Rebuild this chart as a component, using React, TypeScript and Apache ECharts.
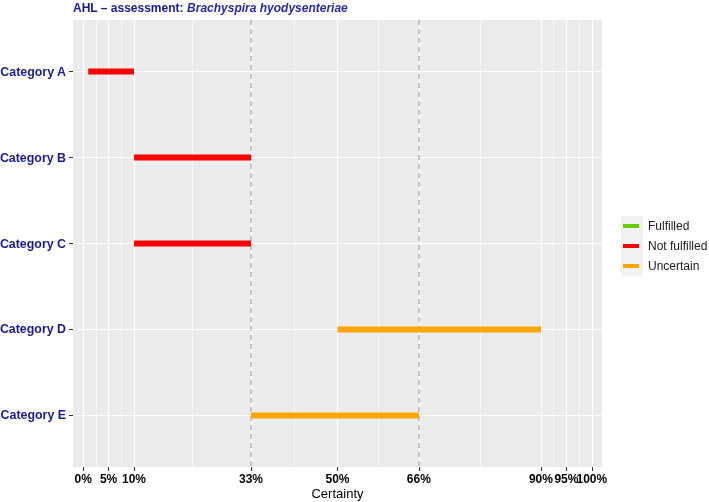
import React, { useEffect, useRef } from "react";
import * as echarts from "echarts";

const categories = ["Category A", "Category B", "Category C", "Category D", "Category E"];
const startValues = [1, 10, 10, 50, 33];
const endValues = [10, 33, 33, 90, 66];
const statusValues = ["Not fulfilled", "Not fulfilled", "Not fulfilled", "Uncertain", "Uncertain"];
const statusNames = ["Fulfilled", "Not fulfilled", "Uncertain"];
const statusColors = ["#66CD00", "#FF0000", "#FFA500"];
const tickValues = [0, 5, 10, 33, 50, 66, 90, 95, 100];
const minorBreaks = [2.5, 7.5, 21.5, 41.5, 58, 78, 92.5, 97.5];
const thresholds = [33, 66];

const FONT = "'Liberation Sans', Arial, sans-serif";
const NAVY = "#1a1a8b";

export default function App() {
  const ref = useRef<HTMLDivElement>(null);
  useEffect(() => {
    if (!ref.current) return;
    const chart = echarts.init(ref.current, null, { renderer: "svg" });

    const catIdx = categories.map((_, i) => i);
    // split tick labels into two alternating sets so that close labels (90/95/100) are all shown
    const labelsA = tickValues.filter((_, i) => i % 2 === 0);
    const labelsB = tickValues.filter((_, i) => i % 2 === 1);

    const barSeries = statusNames.map((name, si) => ({
      type: "custom",
      name,
      z: 5,
      itemStyle: { color: statusColors[si] },
      encode: { x: [0, 1], y: 2 },
      data: categories
        .map((_, i) => [startValues[i], endValues[i], i, statusValues[i]])
        .filter((d) => d[3] === name)
        .map((d) => [d[0], d[1], d[2]]),
      renderItem: (params: any, api: any) => {
        const a = api.coord([api.value(0), api.value(2)]);
        const b = api.coord([api.value(1), api.value(2)]);
        return {
          type: "rect",
          shape: { x: a[0], y: a[1] - 3, width: b[0] - a[0], height: 6 },
          style: { fill: statusColors[si] },
        };
      },
    }));

    const gridSeries = {
      type: "line",
      name: "__grid",
      data: [],
      z: 1,
      silent: true,
      markLine: {
        silent: true,
        symbol: ["none", "none"],
        label: { show: false },
        emphasis: { disabled: true },
        animation: false,
        data: [
          ...minorBreaks.map((v) => ({ xAxis: v, lineStyle: { color: "#FFFFFF", width: 0.6, type: "solid" } })),
          ...tickValues.map((v) => ({ xAxis: v, lineStyle: { color: "#FFFFFF", width: 1.2, type: "solid" } })),
          ...catIdx.map((v) => ({ yAxis: v, lineStyle: { color: "#FFFFFF", width: 1.2, type: "solid" } })),
        ],
      },
    };

    const thresholdSeries = {
      type: "line",
      name: "__thr",
      data: [],
      z: 3,
      silent: true,
      markLine: {
        silent: true,
        symbol: ["none", "none"],
        label: { show: false },
        emphasis: { disabled: true },
        animation: false,
        data: thresholds.map((v) => ({
          xAxis: v,
          lineStyle: { color: "#B3B3B3", width: 1.5, type: [5, 4] },
        })),
      },
    };

    const xLabelStyle = {
      hideOverlap: false,
      margin: 6,
      fontFamily: FONT,
      fontSize: 12,
      fontWeight: "bold",
      color: "#000",
      formatter: (v: number) => `${v}%`,
    };

    chart.setOption({
      animation: false,
      title: {
        left: 73,
        top: 2,
        padding: 0,
        text: "{a|AHL – assessment: }{b|Brachyspira hyodysenteriae}",
        textStyle: {
          rich: {
            a: { fontFamily: FONT, fontSize: 12, fontWeight: "bold", color: NAVY },
            b: { fontFamily: FONT, fontSize: 12, fontStyle: "italic", color: "#2a2aa0" },
          },
        },
      },
      grid: {
        left: 73,
        right: 107,
        top: 20,
        bottom: 35,
        show: true,
        backgroundColor: "#EBEBEB",
        borderWidth: 0,
        containLabel: false,
        outerBoundsMode: "none",
      },
      legend: {
        orient: "vertical",
        left: 623,
        top: 216,
        padding: 0,
        itemGap: 0,
        itemWidth: 16,
        itemHeight: 4,
        selectedMode: false,
        textStyle: { fontFamily: FONT, fontSize: 12, color: "#1A1A1A", lineHeight: 20, padding: [0, 0, 0, 4] },
        data: statusNames.map((n, i) => ({ name: n, icon: "rect", itemStyle: { color: statusColors[i] } })),
      },
      graphic: [
        {
          type: "rect",
          left: 621,
          top: 216,
          shape: { width: 22, height: 60 },
          style: { fill: "#F2F2F2" },
          z: -1,
        },
      ],
      xAxis: [
        {
          type: "value",
          min: -2,
          max: 102,
          name: "Certainty",
          nameLocation: "middle",
          nameGap: 20,
          nameMoveOverlap: false,
          nameTextStyle: { fontFamily: FONT, fontSize: 13, color: "#000" },
          axisLine: { show: true, onZero: false, lineStyle: { color: "#EBEBEB", width: 0 } },
          splitLine: { show: false },
          axisTick: { show: true, length: 4, customValues: tickValues, lineStyle: { color: "#333333", width: 1 } },
          axisLabel: { ...xLabelStyle, customValues: labelsA, showMinLabel: true, showMaxLabel: true },
        },
        {
          type: "value",
          position: "bottom",
          min: -2,
          max: 102,
          axisLine: { show: false },
          splitLine: { show: false },
          axisTick: { show: false },
          axisLabel: { ...xLabelStyle, customValues: labelsB, showMinLabel: true, showMaxLabel: true },
        },
      ],
      yAxis: {
        type: "value",
        inverse: true,
        min: -0.6,
        max: 4.6,
        axisLine: { show: true, onZero: false, lineStyle: { color: "#EBEBEB", width: 0 } },
        splitLine: { show: false },
        axisTick: { show: true, length: 4, customValues: catIdx, lineStyle: { color: "#333333", width: 1 } },
        axisLabel: {
          customValues: catIdx,
          hideOverlap: false,
          margin: 7,
          fontFamily: FONT,
          fontSize: 12.4,
          fontWeight: "bold",
          color: NAVY,
          formatter: (v: number) => categories[Math.round(v)] ?? "",
        },
      },
      series: [gridSeries, thresholdSeries, ...barSeries],
    });
    return () => chart.dispose();
  }, []);
  return <div ref={ref} style={{ position: "fixed", left: 0, top: 0, width: 709, height: 502 }} />;
}
